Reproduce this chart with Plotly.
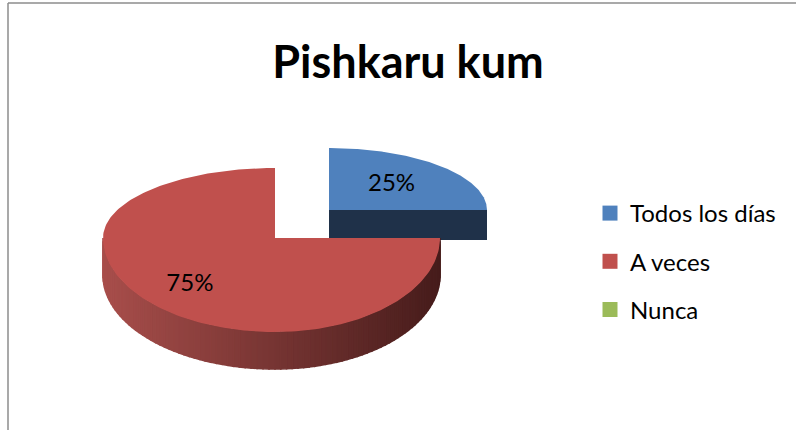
import numpy as np
import plotly.graph_objects as go

# ---- data ----
TITLE = "Pishkaru kum"
CATEGORIES = ["Todos los días", "A veces", "Nunca"]
VALUES = [25, 75, 0]
COLORS = ["#4F81BD", "#C0504D", "#9BBB59"]

# ---- layout geometry (pixel space of the 796x430 canvas) ----
W, H = 796, 430
# per-slice drawing geometry: centre, horizontal radii (left/right), vertical radii (back/front), depth
GEOM = {
    0: dict(cx=329, cy=210, rxl=158, rxr=158, ryb=62, ryf=80, depth=30, lab=0.56),
    1: dict(cx=275, cy=238, rxl=172, rxr=165, ryb=70, ryf=94, depth=37, lab=0.70),
    2: dict(cx=275, cy=238, rxl=172, rxr=165, ryb=70, ryf=94, depth=37, lab=0.70),
}
SIDE_DARK = {0: "#1F3149"}


def pt(g, th, dy=0.0):
    s, c = np.sin(th), np.cos(th)
    x = g["cx"] + (g["rxr"] if s >= 0 else g["rxl"]) * s
    y = g["cy"] - (g["ryb"] if c >= 0 else g["ryf"]) * c
    return x, y + dy


def mix(c1, c2, t):
    return "rgb(%d,%d,%d)" % tuple(round(a + (b - a) * t) for a, b in zip(c1, c2))


total = sum(VALUES)
bounds = []
acc = 0.0
for v in VALUES:
    a0 = acc / total * 2 * np.pi
    acc += v
    a1 = acc / total * 2 * np.pi
    bounds.append((a0, a1))

fig = go.Figure()

order = [0, 1, 2]
for i in order:
    a0, a1 = bounds[i]
    if a1 - a0 <= 1e-9:
        continue
    g = GEOM[i]
    d = g["depth"]
    # radial side face at end angle a1 (faces the viewer for the exploded slice)
    if i in SIDE_DARK:
        x1, y1 = pt(g, a1)
        xs = [g["cx"], x1, x1, g["cx"], g["cx"]]
        ys = [g["cy"], y1, y1 + d, g["cy"] + d, g["cy"]]
        fig.add_trace(go.Scatter(x=xs, y=ys, fill="toself", mode="lines",
                                 line=dict(width=0), fillcolor=SIDE_DARK[i],
                                 hoverinfo="skip", showlegend=False))
    # curved outer wall (front part only) with shading strips
    w0, w1 = max(a0, np.pi / 2), min(a1, 3 * np.pi / 2)
    if w1 > w0:
        n = 90
        ths = np.linspace(w0, w1, n + 1)
        xmin, xmax = g["cx"] - g["rxl"], g["cx"] + g["rxr"]
        for k in range(n):
            t0, t1 = ths[k], ths[k + 1]
            pa, pb = pt(g, t0), pt(g, t1)
            xs = [pa[0], pb[0], pb[0], pa[0], pa[0]]
            ys = [pa[1], pb[1], pb[1] + d, pa[1] + d, pa[1]]
            xm = (pa[0] + pb[0]) / 2
            tt = (xm - xmin) / (xmax - xmin)
            col = mix((168, 78, 75), (70, 28, 27), tt)
            fig.add_trace(go.Scatter(x=xs, y=ys, fill="toself", mode="lines",
                                     line=dict(width=1.6, color=col), fillcolor=col,
                                     hoverinfo="skip", showlegend=False))
    # top face
    ths = np.linspace(a0, a1, 200)
    xs = [g["cx"]] + [pt(g, t)[0] for t in ths] + [g["cx"]]
    ys = [g["cy"]] + [pt(g, t)[1] for t in ths] + [g["cy"]]
    fig.add_trace(go.Scatter(x=xs, y=ys, fill="toself", mode="lines",
                             line=dict(width=0), fillcolor=COLORS[i],
                             hoverinfo="skip", showlegend=False))

# percentage labels
for i in order:
    a0, a1 = bounds[i]
    if a1 - a0 <= 1e-9:
        continue
    g = GEOM[i]
    am = (a0 + a1) / 2
    s, c = np.sin(am), np.cos(am)
    lx = g["cx"] + g["lab"] * (g["rxr"] if s >= 0 else g["rxl"]) * s
    ly = g["cy"] - g["lab"] * (g["ryb"] if c >= 0 else g["ryf"]) * c
    fig.add_trace(go.Scatter(x=[lx], y=[ly], mode="text",
                             text=["%d%%" % round(VALUES[i] / total * 100)],
                             textfont=dict(family="Lato", size=24, color="#000000"),
                             hoverinfo="skip", showlegend=False))

# legend entries
for i, name in enumerate(CATEGORIES):
    fig.add_trace(go.Scatter(x=[None], y=[None], mode="markers", name=name,
                             legendgroup="g%d" % i,
                             marker=dict(symbol="square", size=15, color=COLORS[i])))

fig.update_layout(
    width=W, height=H,
    margin=dict(l=0, r=0, t=0, b=0),
    paper_bgcolor="white", plot_bgcolor="white",
    title=dict(text="<b>%s</b>" % TITLE, x=408 / W, y=1 - 62 / H,
               xanchor="center", yanchor="middle",
               font=dict(family="Lato", size=45, color="#000000")),
    xaxis=dict(range=[0, W], visible=False, fixedrange=True),
    yaxis=dict(range=[H, 0], visible=False, fixedrange=True),
    legend=dict(x=590 / W, y=1 - 191 / H, xanchor="left", yanchor="top",
                font=dict(family="Lato", size=24, color="#000000"),
                tracegroupgap=14, bgcolor="rgba(0,0,0,0)"),
    shapes=[
        dict(type="line", xref="paper", yref="paper", x0=8 / W, x1=8 / W, y0=0, y1=1 - 3 / H,
             line=dict(color="#8C8C8C", width=1.5)),
        dict(type="line", xref="paper", yref="paper", x0=8 / W, x1=1, y0=1 - 3 / H, y1=1 - 3 / H,
             line=dict(color="#8C8C8C", width=1.5)),
    ],
)

fig.write_html("out.html", config={"displayModeBar": False},
               post_script="document.body.style.margin='0';")
